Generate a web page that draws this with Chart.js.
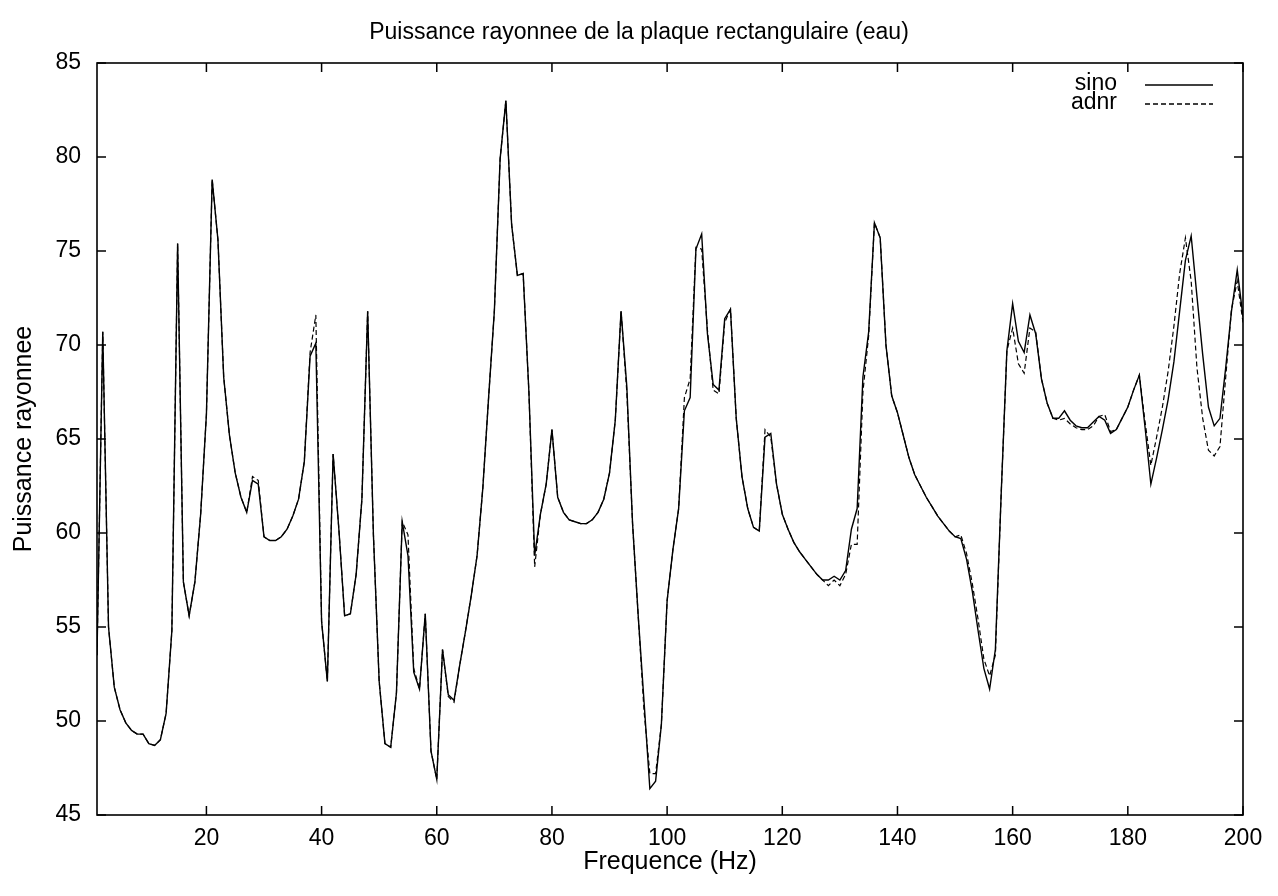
<!DOCTYPE html>
<html>
<head>
<meta charset="utf-8">
<script src="https://cdn.jsdelivr.net/npm/chart.js@4/dist/chart.umd.min.js"></script>
<style>
  html, body { margin: 0; padding: 0; background: #fff; }
  #wrap { width: 1278px; height: 896px; }
</style>
</head>
<body>
<div id="wrap"><canvas id="c" width="1278" height="896"></canvas></div>
<script>
// Frequencies (Hz)
const freq = [
  1,2,3,4,5,6,7,8,9,10,11,12,13,14,15,16,17,18,19,20,
  21,22,23,24,25,26,27,28,29,30,31,32,33,34,35,36,37,38,39,40,
  41,42,43,44,45,46,47,48,49,50,51,52,53,54,55,56,57,58,59,60,
  61,62,63,64,65,66,67,68,69,70,71,72,73,74,75,76,77,78,79,80,
  81,82,83,84,85,86,87,88,89,90,91,92,93,94,95,96,97,98,99,100,
  101,102,103,104,105,106,107,108,109,110,111,112,113,114,115,116,117,118,119,120,
  121,122,123,124,125,126,127,128,129,130,131,132,133,134,135,136,137,138,139,140,
  141,142,143,144,145,146,147,148,149,150,151,152,153,154,155,156,157,158,159,160,
  161,162,163,164,165,166,167,168,169,170,171,172,173,174,175,176,177,178,179,180,
  181,182,183,184,185,186,187,188,189,190,191,192,193,194,195,196,197,198,199,200
];

// Radiated power, "sino" computation
const sino = [
  53.5,70.7,55.0,51.8,50.6,49.9,49.5,49.3,49.3,48.8,48.7,49.0,50.4,54.8,75.4,57.4,55.6,57.4,61.0,66.3,
  78.8,75.6,68.3,65.2,63.2,61.9,61.1,62.8,62.6,59.8,59.6,59.6,59.8,60.2,60.9,61.8,63.8,69.4,70.1,55.3,
  52.1,64.2,60.2,55.6,55.7,57.8,61.8,71.8,59.9,52.1,48.8,48.6,51.5,60.6,58.8,52.6,51.7,55.7,48.4,46.9,
  53.8,51.4,51.1,53.0,54.8,56.7,58.8,62.4,67.2,71.8,79.9,83.0,76.4,73.7,73.8,67.5,58.8,61.0,62.6,65.5,
  61.9,61.1,60.7,60.6,60.5,60.5,60.7,61.1,61.8,63.2,66.0,71.8,67.8,60.5,55.5,51.0,46.4,46.8,49.8,56.4,
  59.1,61.3,66.5,67.2,75.1,75.9,70.6,67.9,67.6,71.4,71.9,66.1,63.0,61.3,60.3,60.1,65.1,65.3,62.6,61.0,
  60.2,59.5,59.0,58.6,58.2,57.8,57.5,57.5,57.7,57.5,58.0,60.2,61.3,68.3,70.7,76.5,75.7,70.0,67.3,66.4,
  65.2,64.0,63.1,62.5,61.9,61.4,60.9,60.5,60.1,59.8,59.7,58.6,56.9,54.8,52.8,51.7,53.8,62.0,69.7,72.2,
  70.2,69.6,71.6,70.6,68.2,66.9,66.1,66.1,66.5,66.0,65.7,65.6,65.6,65.9,66.2,66.0,65.3,65.5,66.1,66.7,
  67.6,68.4,65.6,62.6,64.0,65.5,67.1,69.1,71.8,74.5,75.8,72.6,69.5,66.7,65.7,66.1,68.8,71.8,74.0,71.5
];

// Radiated power, "adnr" computation
const adnr = [
  53.5,70.7,55.0,51.8,50.6,49.9,49.5,49.3,49.3,48.8,48.7,49.0,50.4,54.8,75.4,57.4,55.6,57.4,61.0,66.3,
  78.8,75.6,68.3,65.2,63.2,61.9,61.1,63.0,62.8,59.8,59.6,59.6,59.8,60.2,60.9,61.8,63.8,69.6,71.6,55.3,
  52.1,64.2,60.2,55.6,55.7,57.8,61.8,71.8,59.9,52.1,48.8,48.6,51.5,60.6,59.9,52.8,51.7,55.7,48.4,46.9,
  53.8,51.3,51.0,53.0,54.8,56.7,58.8,62.4,67.2,71.8,79.9,83.0,76.4,73.7,73.8,67.5,58.2,61.0,62.6,65.5,
  61.9,61.1,60.7,60.6,60.5,60.5,60.7,61.1,61.8,63.2,66.0,71.8,67.5,60.5,55.5,50.5,47.2,47.2,49.8,56.4,
  59.1,61.3,67.2,68.2,75.2,75.1,70.8,67.6,67.4,71.2,71.9,66.1,63.0,61.3,60.3,60.1,65.5,65.1,62.6,61.0,
  60.2,59.5,59.0,58.6,58.2,57.8,57.5,57.2,57.5,57.2,57.8,59.4,59.4,67.5,70.5,76.5,75.7,70.0,67.3,66.4,
  65.2,64.0,63.1,62.5,61.9,61.4,60.9,60.5,60.1,59.8,59.9,58.9,57.3,55.4,53.3,52.4,53.5,62.0,69.7,70.9,
  69.0,68.5,70.9,70.7,68.2,66.9,66.1,66.0,66.1,65.8,65.6,65.5,65.5,65.7,66.2,66.3,65.4,65.5,66.1,66.7,
  67.6,68.4,65.9,63.6,65.1,66.7,68.6,71.0,73.8,75.7,73.4,68.8,66.1,64.4,64.1,64.6,68.3,71.9,73.4,71.2
];

// Axis ticks
const xTicks = [20, 40, 60, 80, 100, 120, 140, 160, 180, 200];
const yTicks = [45, 50, 55, 60, 65, 70, 75, 80, 85];

const FONT = '"Liberation Sans", Arial, Helvetica, sans-serif';

// Boxed frame with inward tick marks on all four sides, plus a gnuplot-style key
const framePlugin = {
  id: 'frame',
  afterDatasetsDraw(chart) {
    const { ctx, chartArea: a, scales: { x, y } } = chart;
    const tl = 9;
    ctx.save();
    ctx.strokeStyle = '#000';
    ctx.lineWidth = 1.5;
    ctx.beginPath();
    xTicks.forEach(v => {
      const px = x.getPixelForValue(v);
      ctx.moveTo(px, a.bottom); ctx.lineTo(px, a.bottom - tl);
      ctx.moveTo(px, a.top); ctx.lineTo(px, a.top + tl);
    });
    yTicks.forEach(v => {
      const py = y.getPixelForValue(v);
      ctx.moveTo(a.left, py); ctx.lineTo(a.left + tl, py);
      ctx.moveTo(a.right, py); ctx.lineTo(a.right - tl, py);
    });
    ctx.stroke();
    ctx.lineWidth = 1.6;
    ctx.strokeRect(a.left, a.top, a.right - a.left, a.bottom - a.top);

    // key
    ctx.font = '23px ' + FONT;
    ctx.fillStyle = '#000';
    ctx.textAlign = 'right';
    ctx.textBaseline = 'middle';
    const rows = [84, 103];
    chart.data.datasets.forEach((ds, i) => {
      const yy = rows[i];
      ctx.fillText(ds.label, 1117, yy);
      ctx.beginPath();
      ctx.lineWidth = 1.3;
      ctx.setLineDash(ds.borderDash || []);
      ctx.moveTo(1145, yy + 1);
      ctx.lineTo(1213, yy + 1);
      ctx.stroke();
    });
    ctx.setLineDash([]);
    ctx.restore();
  }
};

new Chart(document.getElementById('c'), {
  type: 'line',
  data: {
    datasets: [
      {
        label: 'sino',
        data: freq.map((f, i) => ({ x: f, y: sino[i] })),
        borderColor: '#000',
        borderWidth: 1.4,
        pointRadius: 0,
        tension: 0,
        fill: false
      },
      {
        label: 'adnr',
        data: freq.map((f, i) => ({ x: f, y: adnr[i] })),
        borderColor: '#000',
        borderWidth: 1.2,
        borderDash: [5, 3],
        pointRadius: 0,
        tension: 0,
        fill: false
      }
    ]
  },
  options: {
    responsive: false,
    animation: false,
    devicePixelRatio: 1,
    layout: { padding: { left: 0, right: 0, top: 0, bottom: 0 } },
    plugins: {
      legend: { display: false },
      tooltip: { enabled: false },
      title: {
        display: true,
        text: 'Puissance rayonnee de la plaque rectangulaire (eau)',
        color: '#000',
        font: { family: FONT, size: 23, weight: 'normal', lineHeight: 1.2 },
        padding: { top: 19, bottom: 16.4 }
      }
    },
    scales: {
      x: {
        type: 'linear',
        min: 1,
        max: 200,
        afterBuildTicks: s => { s.ticks = xTicks.map(v => ({ value: v })); },
        afterFit: s => { s.height = 81; },
        grid: { display: false, drawTicks: false },
        border: { display: false },
        ticks: {
          color: '#000',
          padding: 10,
          maxRotation: 0,
          font: { family: FONT, size: 23 }
        },
        title: {
          display: true,
          text: 'Frequence (Hz)',
          color: '#000',
          font: { family: FONT, size: 25, lineHeight: 1.2 },
          padding: { top: 0, bottom: 19 }
        }
      },
      y: {
        type: 'linear',
        min: 45,
        max: 85,
        afterBuildTicks: s => { s.ticks = yTicks.map(v => ({ value: v })); },
        afterFit: s => { s.width = 97; },
        grid: { display: false, drawTicks: false },
        border: { display: false },
        ticks: {
          color: '#000',
          padding: 16,
          font: { family: FONT, size: 23 }
        },
        title: {
          display: true,
          text: 'Puissance rayonnee',
          color: '#000',
          font: { family: FONT, size: 25, lineHeight: 1.2 },
          padding: { top: 9, bottom: 0 }
        }
      },
      // empty right-hand margin, keeps the title centred on the page
      yRight: {
        type: 'linear',
        position: 'right',
        min: 45,
        max: 85,
        afterFit: s => { s.width = 35; },
        grid: { display: false, drawTicks: false },
        border: { display: false },
        ticks: { display: false }
      }
    }
  },
  plugins: [framePlugin]
});
</script>
</body>
</html>
